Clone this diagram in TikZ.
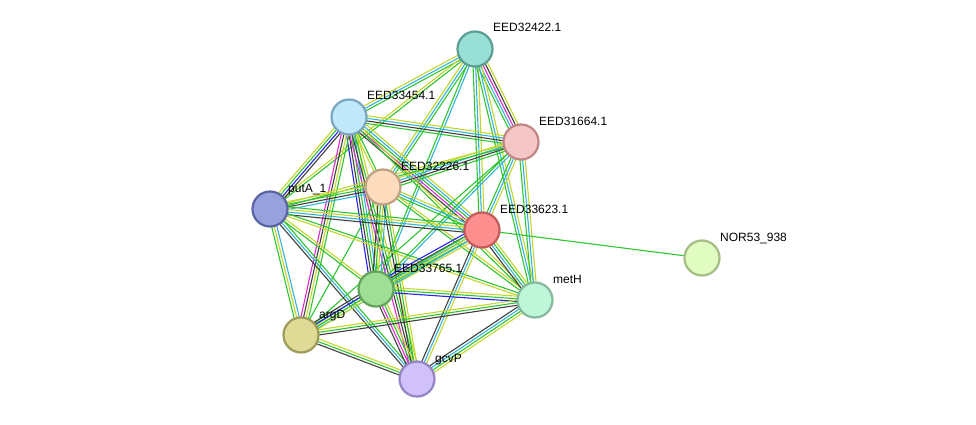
\documentclass[tikz,border=0pt]{standalone}
\usepackage{fontspec}
\setmainfont{Liberation Sans}
\usetikzlibrary{calc,backgrounds}
\definecolor{cg}{HTML}{2EC52E}
\definecolor{cy}{HTML}{C3D62C}
\definecolor{cc}{HTML}{33B5DB}
\definecolor{ck}{HTML}{404040}
\definecolor{cm}{HTML}{E22BD8}
\definecolor{cb}{HTML}{2424EE}
\tikzset{
  prot/.style={circle, minimum size=35pt, inner sep=0pt, line width=2.2pt},
  lab/.style={anchor=base west, font=\fontsize{12}{14}\selectfont, text=black, inner sep=0pt},
  ln/.style={line width=1.1pt}
}
\newcommand{\edgeb}[4]{%
  \foreach \col [count=\k] in {#4} {
    \pgfmathsetmacro{\off}{(\k-(#3+1)/2)*2.6}
    \draw[ln, draw=\col] ($(#1.center)!\off pt!90:(#2.center)$) -- ($(#2.center)!\off pt!-90:(#1.center)$);
  }}
\newcommand{\prot}[6]{%
  \node[prot, fill={[HTML]#4}, draw={[HTML]#5}] (#1) at (#2,#3) {};
  \node[lab] (#1l) at (#2+18,#3-17) {#6};}
\begin{document}
\begin{tikzpicture}[x=1pt,y=-1pt]
\useasboundingbox (0,0) rectangle (976,425);
\node[prot, fill={rgb,255:red,152;green,223;blue,213}, draw={rgb,255:red,91;green,158;blue,148}] (A) at (475,49) {};
\node[prot, fill={rgb,255:red,192;green,232;blue,251}, draw={rgb,255:red,123;green,166;blue,192}] (B) at (349,117) {};
\node[prot, fill={rgb,255:red,245;green,198;blue,198}, draw={rgb,255:red,192;green,133;blue,133}] (C) at (521,142) {};
\node[prot, fill={rgb,255:red,253;green,220;blue,189}, draw={rgb,255:red,191;green,160;blue,130}] (D) at (383,187) {};
\node[prot, fill={rgb,255:red,151;green,161;blue,222}, draw={rgb,255:red,90;green,100;blue,162}] (P) at (270,209) {};
\node[prot, fill={rgb,255:red,253;green,142;blue,142}, draw={rgb,255:red,196;green,90;blue,90}] (R) at (482,230) {};
\node[prot, fill={rgb,255:red,224;green,252;blue,192}, draw={rgb,255:red,163;green,189;blue,133}] (N) at (702,258) {};
\node[prot, fill={rgb,255:red,158;green,222;blue,149}, draw={rgb,255:red,98;green,164;blue,90}] (G) at (376,289) {};
\node[prot, fill={rgb,255:red,189;green,246;blue,216}, draw={rgb,255:red,134;green,184;blue,156}] (M) at (535,300) {};
\node[prot, fill={rgb,255:red,223;green,219;blue,151}, draw={rgb,255:red,158;green,155;blue,90}] (Q) at (301,335) {};
\node[prot, fill={rgb,255:red,208;green,193;blue,251}, draw={rgb,255:red,148;green,131;blue,198}] (V) at (417,379) {};
\node[lab] (Al) at (493,32) {EED32422.1};
\node[lab] (Bl) at (367,100) {EED33454.1};
\node[lab] (Cl) at (539,125) {EED31664.1};
\node[lab] (Dl) at (401,170) {EED32226.1};
\node[lab] (Pl) at (288,192) {putA\_1};
\node[lab] (Rl) at (500,213) {EED33623.1};
\node[lab] (Nl) at (720,241) {NOR53\_938};
\node[lab] (Gl) at (394,272) {EED33765.1};
\node[lab] (Ml) at (553,283) {metH};
\node[lab] (Ql) at (319,318) {argD};
\node[lab] (Vl) at (435,362) {gcvP};
\begin{scope}[on background layer]
\edgeb{A}{B}{3}{cy,cc,cg}
\edgeb{A}{C}{5}{cg,cc,cm,ck,cy}
\edgeb{A}{D}{3}{cy,cc,cg}
\edgeb{A}{P}{2}{cy,cg}
\edgeb{A}{R}{3}{cg,cc,cy}
\edgeb{A}{M}{3}{cg,cc,cy}
\edgeb{A}{G}{2}{cg,cc}
\edgeb{B}{C}{4}{cg,ck,cc,cy}
\edgeb{B}{D}{2}{cy,cg}
\edgeb{B}{P}{4}{cy,cg,cb,ck}
\edgeb{B}{R}{5}{ck,cm,cg,cc,cy}
\edgeb{B}{G}{5}{cb,ck,cg,cc,cy}
\edgeb{B}{Q}{4}{cm,ck,cy,cg}
\edgeb{B}{V}{4}{cm,ck,cg,cy}
\edgeb{B}{M}{2}{cg,cy}
\edgeb{C}{D}{4}{cy,cc,ck,cg}
\edgeb{C}{P}{2}{cy,cg}
\edgeb{C}{R}{3}{cg,cc,cy}
\edgeb{C}{M}{3}{cg,cc,cy}
\edgeb{C}{G}{2}{cg,cc}
\edgeb{C}{Q}{1}{cg}
\edgeb{D}{P}{4}{cy,cg,ck,cc}
\edgeb{D}{R}{3}{cg,cc,cy}
\edgeb{D}{G}{4}{ck,cg,cy,cc}
\edgeb{D}{V}{3}{ck,cg,cy}
\edgeb{D}{M}{2}{cg,cy}
\edgeb{D}{Q}{1}{cg}
\edgeb{P}{R}{4}{ck,cc,cy,cg}
\edgeb{P}{G}{2}{cg,cy}
\edgeb{P}{Q}{3}{cg,cy,cc}
\edgeb{P}{V}{3}{ck,cc,cg}
\edgeb{P}{M}{2}{cy,cg}
\edgeb{R}{N}{1}{cg}
\edgeb{R}{G}{5}{cb,ck,cc,cg,cy}
\edgeb{R}{M}{4}{ck,cc,cg,cy}
\edgeb{R}{V}{3}{ck,cc,cy}
\edgeb{R}{Q}{3}{cg,cy,cc}
\edgeb{G}{M}{3}{cb,cg,cy}
\edgeb{G}{Q}{4}{ck,cb,cg,cy}
\edgeb{G}{V}{4}{ck,cm,cg,cy}
\edgeb{Q}{M}{3}{ck,cg,cy}
\edgeb{Q}{V}{3}{ck,cg,cy}
\edgeb{M}{V}{4}{ck,cc,cg,cy}
\end{scope}
\end{tikzpicture}
\end{document}
